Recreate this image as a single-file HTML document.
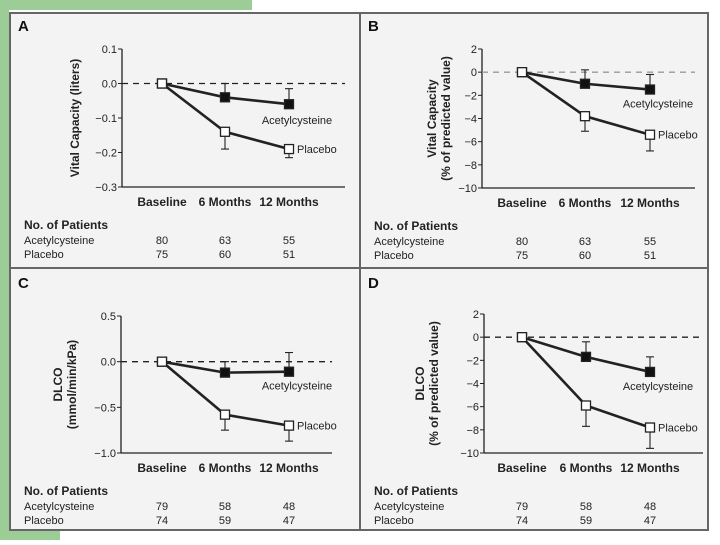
<!DOCTYPE html>
<html><head><meta charset="utf-8">
<style>
body{margin:0;width:720px;height:540px;background:#fff;overflow:hidden;font-family:"Liberation Sans",sans-serif;}
svg text{font-family:"Liberation Sans",sans-serif;}
</style></head>
<body>
<svg id="fig" width="720" height="540" viewBox="0 0 720 540" xmlns="http://www.w3.org/2000/svg">
<rect x="0" y="0" width="252" height="10" fill="#9dcd96"/>
<rect x="0" y="0" width="9" height="540" fill="#9dcd96"/>
<rect x="0" y="531" width="60" height="9" fill="#9dcd96"/>
<rect x="10" y="13" width="698" height="517" fill="#f3f3f3" stroke="#666" stroke-width="2"/>
<line x1="360" y1="13" x2="360" y2="530" stroke="#666" stroke-width="2"/>
<line x1="10" y1="268" x2="708" y2="268" stroke="#666" stroke-width="2"/>
</svg>
<script>
const categories = ["Baseline","6 Months","12 Months"];
// Panel A
const aTicks = [0.1,0.0,-0.1,-0.2,-0.3];
const aTickLabels = ["0.1","0.0","\u22120.1","\u22120.2","\u22120.3"];
const aAcetyl = [0,-0.04,-0.06];
const aAcetylErr = [0,0.04,0.045];
const aPlacebo = [0,-0.14,-0.19];
const aPlaceboErr = [0,0.05,0.025];
const aNAcetyl = [80,63,55];
const aNPlacebo = [75,60,51];
// Panel B
const bTicks = [2,0,-2,-4,-6,-8,-10];
const bTickLabels = ["2","0","\u22122","\u22124","\u22126","\u22128","\u221210"];
const bAcetyl = [0,-1.0,-1.5];
const bAcetylErr = [0,1.2,1.3];
const bPlacebo = [0,-3.8,-5.4];
const bPlaceboErr = [0,1.3,1.4];
const bNAcetyl = [80,63,55];
const bNPlacebo = [75,60,51];
// Panel C
const cTicks = [0.5,0.0,-0.5,-1.0];
const cTickLabels = ["0.5","0.0","\u22120.5","\u22121.0"];
const cAcetyl = [0,-0.12,-0.11];
const cAcetylErr = [0,0.12,0.21];
const cPlacebo = [0,-0.58,-0.70];
const cPlaceboErr = [0,0.17,0.17];
const cNAcetyl = [79,58,48];
const cNPlacebo = [74,59,47];
// Panel D
const dTicks = [2,0,-2,-4,-6,-8,-10];
const dTickLabels = ["2","0","\u22122","\u22124","\u22126","\u22128","\u221210"];
const dAcetyl = [0,-1.7,-3.0];
const dAcetylErr = [0,1.3,1.3];
const dPlacebo = [0,-5.9,-7.8];
const dPlaceboErr = [0,1.8,1.8];
const dNAcetyl = [79,58,48];
const dNPlacebo = [74,59,47];

const NS="http://www.w3.org/2000/svg";
const svg=document.getElementById('fig');
function mk(tag,attrs,parent,text){const e=document.createElementNS(NS,tag);for(const k in attrs)e.setAttribute(k,attrs[k]);if(text!==undefined)e.textContent=text;(parent||svg).appendChild(e);return e;}

function panel(cfg){
  const g=mk('g',{});
  
  
  const yMax=cfg.ticks[0], yMin=cfg.ticks[cfg.ticks.length-1];
  const y=v=>cfg.yTop+(yMax-v)/(yMax-yMin)*(cfg.yBot-cfg.yTop);
  const x=i=>cfg.xs[i];
  const L=mk('text',{x:cfg.ox+8,y:cfg.oy+18,'font-size':15,'font-weight':'bold',fill:'#111'},g,cfg.letter);
  
  
  // axes
  const ya=mk('line',{x1:cfg.ax,y1:y(yMax),x2:cfg.ax,y2:cfg.yBot,stroke:'#222','stroke-width':1.3},g);
  
  
  const xa=mk('line',{x1:cfg.ax,y1:cfg.yBot,x2:cfg.xEnd,y2:cfg.yBot,stroke:'#222','stroke-width':1.3},g);
  
  
  cfg.ticks.forEach((t,i)=>{
    const tl=mk('line',{x1:cfg.ax-4,y1:y(t),x2:cfg.ax,y2:y(t),stroke:'#222','stroke-width':1},g);
    
    
    const tt=mk('text',{x:cfg.ax-5,y:y(t)+4,'font-size':11,'text-anchor':'end',fill:'#222'},g,cfg.tickLabels[i]);
    
    
  });
  const z=mk('line',{x1:cfg.ax,y1:y(0),x2:cfg.xEnd,y2:y(0),stroke:cfg.dashColor,'stroke-width':1.3,'stroke-dasharray':'6,5'},g);
  
  
  // y title
  const tx=cfg.titleX, ty=(cfg.yTop+cfg.yBot)/2;
  cfg.title.forEach((line,k)=>{
    const t=mk('text',{x:tx+k*14,y:ty,'font-size':12,'font-weight':'bold','text-anchor':'middle',fill:'#222',transform:`rotate(-90 ${tx+k*14} ${ty})`},g,line);
    
    
  });
  // series
  const series=[{v:cfg.pl,e:cfg.ple,dir:-1,fill:'#fff',name:'placebo'},{v:cfg.ac,e:cfg.ace,dir:1,fill:'#111',name:'acetylcysteine'}];
  series.forEach(s=>{
    s.v.forEach((v,i)=>{
      if(s.e[i]>0){
        const ye=y(v+s.dir*s.e[i]);
        const eb=mk('line',{x1:x(i),y1:y(v),x2:x(i),y2:ye,stroke:'#222','stroke-width':1.1},g);
        
        
        const cap=mk('line',{x1:x(i)-4,y1:ye,x2:x(i)+4,y2:ye,stroke:'#222','stroke-width':1.1},g);
        
        
      }
    });
    const ln=mk('polyline',{points:s.v.map((v,i)=>x(i)+','+y(v)).join(' '),fill:'none',stroke:'#222','stroke-width':2.6},g);
    
    
  });
  series.forEach(s=>{
    s.v.forEach((v,i)=>{
      const m=mk('rect',{x:x(i)-4.5,y:y(v)-4.5,width:9,height:9,fill:i===0?'#fff':s.fill,stroke:'#222','stroke-width':1.3},g);
      
      
    });
  });
  const la=mk('text',{x:x(2)+8,y:y(cfg.ac[2])+cfg.acLabDy,'font-size':11,'text-anchor':'middle',fill:'#222'},g,'Acetylcysteine');
  
  
  const lp=mk('text',{x:x(2)+8,y:y(cfg.pl[2])+4,'font-size':11,fill:'#222'},g,'Placebo');
  
  
  categories.forEach((c,i)=>{
    const t=mk('text',{x:x(i),y:cfg.yBot+19,'font-size':12,'font-weight':'bold','text-anchor':'middle',fill:'#222'},g,c);
    
    
  });
  const nt=mk('text',{x:cfg.ox+14,y:cfg.yBot+42,'font-size':12,'font-weight':'bold',fill:'#222'},g,'No. of Patients');
  
  
  [['Acetylcysteine',cfg.nA],['Placebo',cfg.nP]].forEach((r,k)=>{
    const ry=cfg.yBot+57+k*14;
    const rl=mk('text',{x:cfg.ox+14,y:ry,'font-size':11,fill:'#222'},g,r[0]);
    
    
    r[1].forEach((n,i)=>{
      const t=mk('text',{x:x(i),y:ry,'font-size':11,'text-anchor':'middle',fill:'#222'},g,n);
      
      
    });
  });
}
panel({letter:'A',ox:10,oy:13,ax:122,xEnd:345,yTop:49,yBot:187,xs:[162,225,289],ticks:aTicks,tickLabels:aTickLabels,
  ac:aAcetyl,ace:aAcetylErr,pl:aPlacebo,ple:aPlaceboErr,nA:aNAcetyl,nP:aNPlacebo,dashColor:'#222',titleX:79,title:['Vital Capacity (liters)'],acLabDy:20});
panel({letter:'B',ox:360,oy:13,ax:482,xEnd:695,yTop:49,yBot:188,xs:[522,585,650],ticks:bTicks,tickLabels:bTickLabels,
  ac:bAcetyl,ace:bAcetylErr,pl:bPlacebo,ple:bPlaceboErr,nA:bNAcetyl,nP:bNPlacebo,dashColor:'#999',titleX:436,title:['Vital Capacity','(% of predicted value)'],acLabDy:18});
panel({letter:'C',ox:10,oy:270,ax:121,xEnd:332,yTop:316,yBot:453,xs:[162,225,289],ticks:cTicks,tickLabels:cTickLabels,
  ac:cAcetyl,ace:cAcetylErr,pl:cPlacebo,ple:cPlaceboErr,nA:cNAcetyl,nP:cNPlacebo,dashColor:'#222',titleX:62,title:['DLCO','(mmol/min/kPa)'],acLabDy:18});
panel({letter:'D',ox:360,oy:270,ax:484,xEnd:703,yTop:314,yBot:453,xs:[522,586,650],ticks:dTicks,tickLabels:dTickLabels,
  ac:dAcetyl,ace:dAcetylErr,pl:dPlacebo,ple:dPlaceboErr,nA:dNAcetyl,nP:dNPlacebo,dashColor:'#222',titleX:424,title:['DLCO','(% of predicted value)'],acLabDy:18});
</script>
</body></html>
